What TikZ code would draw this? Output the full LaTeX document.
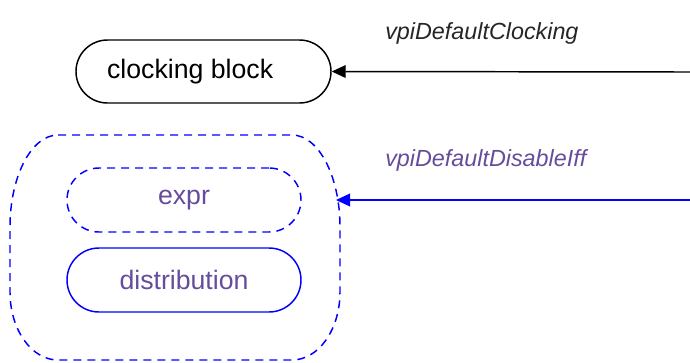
\documentclass[tikz,border=0pt]{standalone}
\usepackage{fontspec}
\setmainfont{Liberation Sans}
\usetikzlibrary{arrows.meta}
\definecolor{lblpurple}{RGB}{102,76,155}
\definecolor{pureblue}{RGB}{0,0,255}
\tikzset{
  pill/.style={draw, rectangle, rounded corners=#1, inner sep=0pt, line width=1.1pt, font=\fontsize{20}{24}\selectfont},
  blackpill/.style={pill=23.6pt, minimum width=191.25pt, minimum height=47.25pt, black},
  bluepill/.style={pill=24pt, minimum width=175.5pt, minimum height=48pt, draw=pureblue, text=lblpurple},
  dashpat/.style={dash pattern=on 6pt off 4.5pt},
  conn/.style={line width=1.1pt, -{Triangle[length=10.5pt,width=9.5pt]}},
  elabel/.style={font=\fontsize{17.5}{21}\selectfont\itshape, anchor=west, inner sep=0pt},
}
\begin{document}
\begin{tikzpicture}[x=0.75pt, y=-0.75pt]
\useasboundingbox (0,0) rectangle (690,362);
% clocking block
\node[blackpill] (cb) at (203.5,71.5) {clocking block\hspace*{20pt}};
\coordinate (r1) at (690,72);
\draw[conn, black] (r1) -- (cb.east);
\node[elabel, text=black!85] (l1) at (385,33) {vpiDefaultClocking};
% outer group
\draw[pureblue, line width=1.1pt, dashpat]
  (58,135) -- (292,135)
  arc[start angle=90, end angle=0, x radius=48, y radius=-92]
  -- (340,292)
  arc[start angle=0, end angle=-90, x radius=48, y radius=-68]
  -- (58,360)
  arc[start angle=270, end angle=180, x radius=48, y radius=-68]
  -- (10,227)
  arc[start angle=180, end angle=90, x radius=48, y radius=-92] -- cycle;
\coordinate (grp) at (336,200);
\node[bluepill, dashpat] (ex) at (184,200) {expr};
\node[bluepill] (di) at (184,280) {distribution};
\coordinate (r2) at (690,200);
\draw[conn, pureblue] (r2) -- (grp);
\node[elabel, text=lblpurple] (l2) at (385,160) {vpiDefaultDisableIff};
\end{tikzpicture}
\end{document}
